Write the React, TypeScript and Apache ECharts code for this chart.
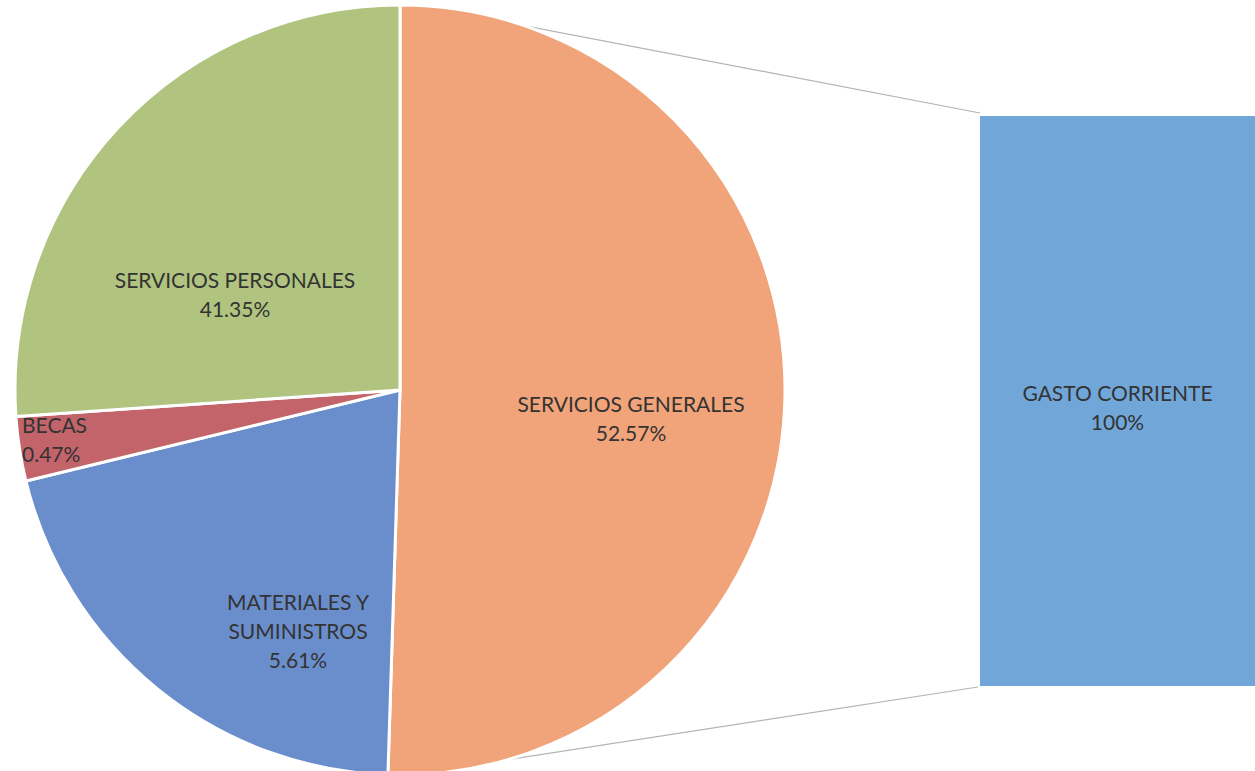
import React, { useEffect, useRef } from "react";
import * as echarts from "echarts";

// Pie slices (clockwise from 12 o'clock)
const categories = ["SERVICIOS GENERALES", "MATERIALES Y SUMINISTROS", "BECAS", "SERVICIOS PERSONALES"];
const sliceValues = [50.5, 20.7, 2.7, 26.1];
const labelNames = ["SERVICIOS GENERALES", "MATERIALES Y\nSUMINISTROS", "BECAS", "SERVICIOS PERSONALES"];
const labelPercents = ["52.57%", "5.61%", "0.47%", "41.35%"];
const sliceColors = ["#F1A379", "#6A8ECB", "#C3646A", "#B1C47F"];

// Bar of the pie-of-bar
const barCategories = ["GASTO CORRIENTE"];
const barValues = [100];
const barLabels = ["100%"];

// Label anchor points (layout only)
const labelPos = [
  { x: 631, y: 418, align: "center" },
  { x: 298, y: 630, align: "center" },
  { x: 22, y: 439, align: "left" },
  { x: 235, y: 294, align: "center" },
];

const FONT = "Lato, 'Open Sans', sans-serif";
const TEXT_COLOR = "#333333";

export default function App() {
  const ref = useRef<HTMLDivElement>(null);
  useEffect(() => {
    if (!ref.current) return;
    const chart = echarts.init(ref.current, null, { renderer: "svg" });
    chart.setOption({
      animation: false,
      backgroundColor: "#ffffff",
      textStyle: { fontFamily: FONT },
      grid: { left: 980, top: 116, width: 282, height: 570 },
      xAxis: { type: "category", data: barCategories, show: false },
      yAxis: { type: "value", min: 0, max: 100, show: false },
      graphic: [
        { type: "line", shape: { x1: 505, y1: 22, x2: 980, y2: 113 }, style: { stroke: "#b4b4b4", lineWidth: 1.2 }, z: 0 },
        { type: "line", shape: { x1: 493, y1: 762, x2: 978, y2: 687 }, style: { stroke: "#b4b4b4", lineWidth: 1.2 }, z: 0 },
      ],
      series: [
        {
          type: "pie",
          center: [400, 390],
          radius: 385,
          startAngle: 90,
          clockwise: true,
          avoidLabelOverlap: false,
          itemStyle: { borderColor: "#ffffff", borderWidth: 3 },
          label: {
            show: true,
            position: "inside",
            fontFamily: FONT,
            fontSize: 21,
            lineHeight: 29,
            color: TEXT_COLOR,
            formatter: (p: any) => labelNames[p.dataIndex] + "\n" + labelPercents[p.dataIndex],
          },
          labelLayout: (p: any) => {
            const lp = labelPos[p.dataIndex];
            return { x: lp.x, y: lp.y, align: lp.align, verticalAlign: "middle" };
          },
          data: categories.map((c, i) => ({
            name: c,
            value: sliceValues[i],
            itemStyle: { color: sliceColors[i] },
            label: { align: labelPos[i].align },
          })),
        },
        {
          type: "bar",
          barWidth: "100%",
          data: barValues,
          itemStyle: { color: "#71A7D8" },
          label: {
            show: true,
            position: "inside",
            offset: [0, 6],
            fontFamily: FONT,
            fontSize: 21,
            lineHeight: 29,
            color: TEXT_COLOR,
            formatter: (p: any) => barCategories[p.dataIndex] + "\n" + barLabels[p.dataIndex],
          },
        },
      ],
    });
    return () => chart.dispose();
  }, []);
  return (
    <div
      ref={ref}
      style={{ position: "fixed", left: 0, top: 0, width: 1255, height: 771, background: "#fff" }}
    />
  );
}
